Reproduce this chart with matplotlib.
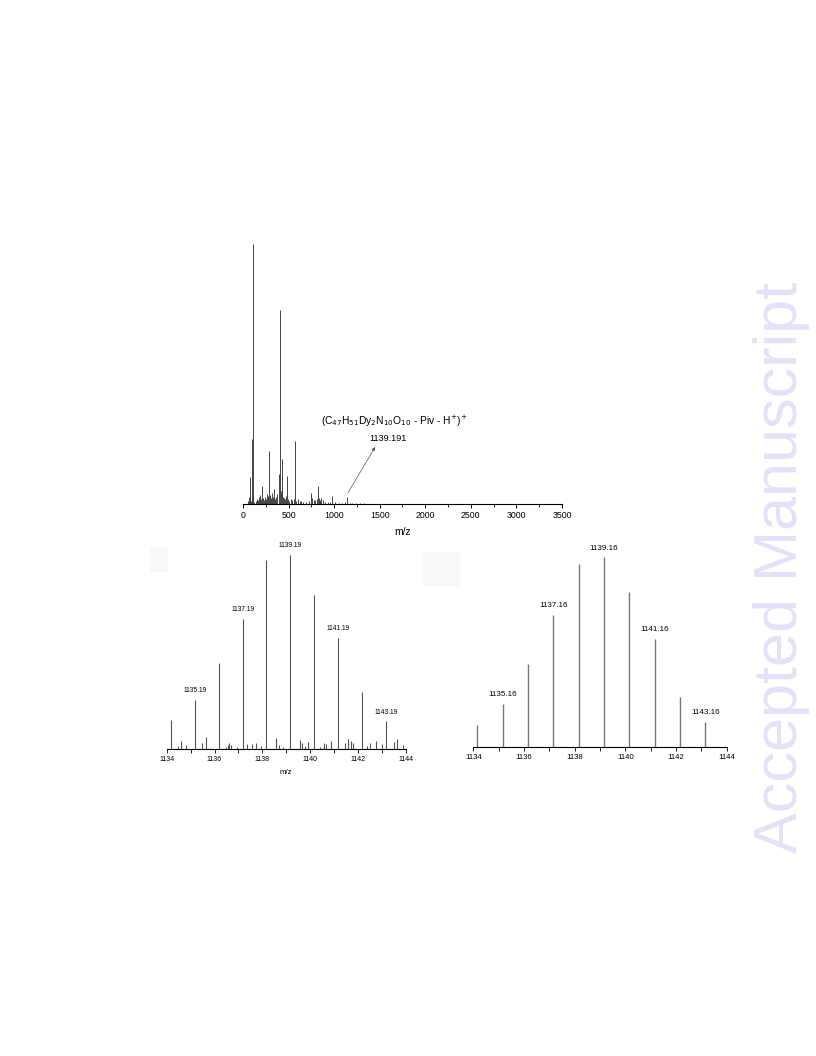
import matplotlib
matplotlib.use('Agg')
import matplotlib.pyplot as plt
from matplotlib.patches import Rectangle

plt.rcParams['font.family'] = ['Liberation Sans', 'DejaVu Sans']

# full spectrum (m/z, relative intensity)
full_mz = [55, 62, 68, 73, 80, 88, 95, 103, 106, 115, 125, 140, 150, 165, 180, 190, 198, 208, 218, 230,
           245, 255, 262, 270, 282, 292, 300, 310, 318, 326, 336, 345, 355, 365, 378, 391, 400, 410, 420,
           428, 438, 450, 465, 475, 483, 495, 510, 525, 540, 555, 571, 585, 600, 620, 640, 660, 690, 720,
           746, 760, 775, 795, 810, 819, 830, 845, 860, 880, 905, 930, 955, 980, 1010, 1050, 1090, 1120,
           1141, 1170, 1200, 1240, 1280, 1330, 1400]
full_int = [1.5, 3.0, 1.8, 10.6, 2.5, 1.2, 2.0, 25.0, 100.0, 1.5, 1.0, 1.3, 2.2, 1.6, 2.8, 3.5, 2.0, 7.0, 2.4, 1.8,
            3.0, 2.2, 4.0, 3.2, 20.4, 2.6, 3.5, 2.4, 4.4, 3.0, 5.8, 2.5, 2.0, 3.0, 4.0, 11.6, 3.6, 74.8, 5.0,
            17.4, 3.0, 2.4, 2.0, 3.2, 11.0, 2.0, 1.5, 2.2, 1.6, 2.0, 24.5, 1.5, 2.2, 1.2, 1.5, 1.0, 1.0, 1.3,
            4.4, 2.5, 1.6, 1.8, 2.0, 7.1, 2.4, 1.6, 2.5, 1.8, 1.0, 0.8, 1.0, 3.2, 0.8, 0.7, 0.6, 0.8,
            2.8, 0.7, 0.6, 0.5, 0.5, 0.4, 0.3]

# experimental isotope pattern
exp_mz = [1134.20, 1134.46, 1134.60, 1134.80, 1135.17, 1135.49, 1135.66, 1136.19, 1136.48, 1136.55,
          1136.62, 1136.69, 1136.93, 1137.18, 1137.38, 1137.57, 1137.74, 1137.93, 1138.17, 1138.59,
          1138.69, 1138.88, 1139.17, 1139.59, 1139.68, 1139.77, 1139.91, 1140.16, 1140.40, 1140.60,
          1140.68, 1140.86, 1141.18, 1141.48, 1141.60, 1141.70, 1141.80, 1142.19, 1142.37, 1142.51,
          1142.77, 1143.01, 1143.19, 1143.50, 1143.64, 1143.90]
exp_int = [15.1, 1.7, 4.3, 2.2, 25.4, 3.1, 6.5, 44.6, 1.4, 2.2,
           3.4, 2.2, 1.4, 67.2, 2.6, 2.7, 3.4, 1.7, 97.4, 5.7,
           2.2, 1.4, 100.0, 4.8, 3.1, 1.7, 3.8, 79.4, 1.0, 3.4,
           2.7, 4.3, 57.5, 3.1, 5.3, 4.3, 3.1, 29.3, 1.7, 3.1,
           4.5, 2.7, 14.4, 3.8, 5.3, 2.2]
exp_labels = ['1135.19', '1137.19', '1139.19', '1141.19', '1143.19']

# simulated isotope pattern
sim_mz = [1134.16, 1135.16, 1136.14, 1137.16, 1138.16, 1139.16, 1140.16, 1141.16, 1142.16, 1143.16]
sim_int = [11.8, 22.8, 43.9, 69.6, 96.5, 100.0, 81.9, 57.2, 26.3, 13.3]
sim_labels = ['1135.16', '1137.16', '1139.16', '1141.16', '1143.16']

fig = plt.figure(figsize=(8.16, 10.56), dpi=100)


def strip(ax):
    for s in ['left', 'top', 'right']:
        ax.spines[s].set_visible(False)
    ax.spines['bottom'].set_linewidth(0.8)
    ax.set_yticks([])


def nearest(xs, v):
    return min(range(len(xs)), key=lambda k: abs(xs[k] - v))


# top: full spectrum
ax1 = fig.add_axes([0.2978, 0.5223, 0.3909, 0.2509])
ax1.vlines(full_mz, 0, full_int, color='#444444', lw=0.7)
ax1.set_xlim(0, 3500)
ax1.set_ylim(0, 100 * 265 / 260)
ax1.set_xticks(range(0, 3501, 500))
ax1.set_xticks(range(250, 3500, 500), minor=True)
ax1.tick_params(axis='x', which='major', labelsize=6.3, length=3, width=0.7, pad=2)
ax1.tick_params(axis='x', which='minor', length=2, width=0.6)
ax1.set_xlabel('m/z', fontsize=7.5, labelpad=5)
strip(ax1)
ax1.annotate('', xy=(1465, 23.0), xytext=(1135, 3.5),
             arrowprops=dict(arrowstyle='-|>', color='#555555', lw=0.5, mutation_scale=5))
ax1.text(1660, 31.8, r'(C$_{47}$H$_{51}$Dy$_{2}$N$_{10}$O$_{10}$ - Piv - H$^{+}$)$^{+}$',
         fontsize=7.4, ha='center', va='center')
ax1.text(1595, 25.3, '1139.191', fontsize=6.6, ha='center', va='center')

# bottom left: experimental
ax2 = fig.add_axes([0.2043, 0.2904, 0.2929, 0.1935])
ax2.vlines(exp_mz, 0, exp_int, color='#555555', lw=0.8)
ax2.set_xlim(1134, 1144)
ax2.set_ylim(0, 105.3)
ax2.set_xticks(range(1134, 1145, 2))
ax2.set_xticks(range(1135, 1144, 2), minor=True)
ax2.tick_params(axis='x', which='major', labelsize=5.0, length=3, width=0.6, pad=2)
ax2.tick_params(axis='x', which='minor', length=3, width=0.6)
ax2.set_xlabel('m/z', fontsize=5.6, labelpad=4)
strip(ax2)
for lab in exp_labels:
    i = nearest(exp_mz, float(lab))
    ax2.text(exp_mz[i], exp_int[i] + 3, lab, fontsize=4.8, ha='center', va='bottom')

# bottom right: simulated
ax3 = fig.add_axes([0.58, 0.2923, 0.3105, 0.1916])
ax3.vlines(sim_mz, 0, sim_int, color='#777777', lw=1.0)
ax3.set_xlim(1134, 1144)
ax3.set_ylim(0, 106.5)
ax3.set_xticks(range(1134, 1145, 2))
ax3.set_xticks(range(1135, 1144, 2), minor=True)
ax3.tick_params(axis='x', which='major', labelsize=5.6, length=3, width=0.6, pad=2)
ax3.tick_params(axis='x', which='minor', length=3, width=0.6)
strip(ax3)
for lab in sim_labels:
    i = nearest(sim_mz, float(lab))
    ax3.text(sim_mz[i], sim_int[i] + 3, lab, fontsize=5.8, ha='center', va='bottom')

# faint scan artefacts
fig.patches.append(Rectangle((150 / 816, 1 - 572 / 1056), 18 / 816, 25 / 1056,
                             transform=fig.transFigure, color='#f9f9f9', lw=0))
fig.patches.append(Rectangle((423 / 816, 1 - 587 / 1056), 37 / 816, 35 / 1056,
                             transform=fig.transFigure, color='#f9f9f9', lw=0))

fig.text(781 / 816, 1 - 567 / 1056, 'Accepted Manuscript', rotation=90, fontsize=44,
         color='#e2e2f9', ha='center', va='center')

fig.savefig('out.png', dpi=100)
